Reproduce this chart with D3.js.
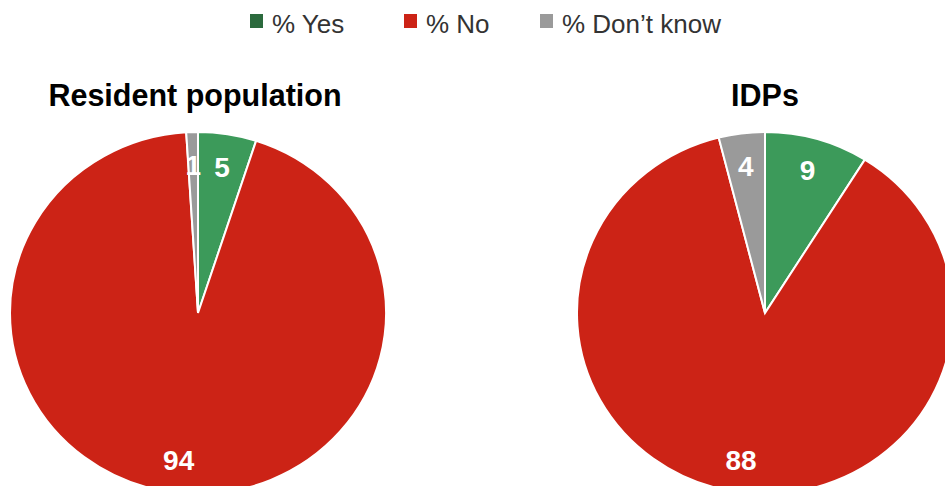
<!DOCTYPE html>
<html>
<head>
<meta charset="utf-8">
<script src="https://cdn.jsdelivr.net/npm/d3@7"></script>
<style>
  html, body { margin: 0; padding: 0; background: #fff; }
  svg { display: block; }
</style>
</head>
<body>
<svg id="chart" width="945" height="486"></svg>
<script>
// Survey answers, one pie per population group
const categories = ["% Yes", "% No", "% Don\u2019t know"];
const groups = ["Resident population", "IDPs"];
const residentValues = [5, 94, 1];
const idpValues = [9, 88, 4];

const sliceColors = ["#3c9a5a", "#cc2316", "#9a9a9a"];
const legendColors = ["#2b6a3d", "#cc2316", "#9a9a9a"];

const svg = d3.select("#chart");

// Legend across the top
const legendX = [250, 404, 540];
const legend = svg.append("g").attr("class", "legend");
categories.forEach((c, i) => {
  legend.append("rect")
    .attr("x", legendX[i]).attr("y", 14)
    .attr("width", 13).attr("height", 14)
    .attr("fill", legendColors[i]);
  legend.append("text")
    .attr("x", legendX[i] + 22).attr("y", 33)
    .attr("font-family", "Liberation Sans, Arial, sans-serif")
    .attr("font-size", 26)
    .attr("fill", "#333")
    .text(c);
});

// Pie geometry
const rx = 188, ry = 181;
const centers = [{ x: 198, y: 313 }, { x: 765, y: 313 }];
const titleX = [195, 765];
const datasets = [residentValues, idpValues];

const pie = d3.pie().sort(null).value(d => d);
const arc = d3.arc().innerRadius(0).outerRadius(rx);
const labelArc = d3.arc().innerRadius(rx * 0.82).outerRadius(rx * 0.82);

datasets.forEach((vals, gi) => {
  const c = centers[gi];
  const arcs = pie(vals);

  // slices, squashed slightly vertically
  const g = svg.append("g")
    .attr("transform", `translate(${c.x},${c.y}) scale(1,${ry / rx})`);
  g.selectAll("path")
    .data(arcs)
    .join("path")
    .attr("d", arc)
    .attr("fill", (d, i) => sliceColors[i])
    .attr("stroke", "#fff")
    .attr("stroke-width", 2)
    .attr("vector-effect", "non-scaling-stroke");

  // value labels
  const lg = svg.append("g").attr("transform", `translate(${c.x},${c.y})`);
  lg.selectAll("text")
    .data(arcs)
    .join("text")
    .attr("x", d => labelArc.centroid(d)[0])
    .attr("y", d => labelArc.centroid(d)[1] * ry / rx)
    .attr("dy", "0.36em")
    .attr("text-anchor", "middle")
    .attr("font-family", "Liberation Sans, Arial, sans-serif")
    .attr("font-weight", "bold")
    .attr("font-size", 28)
    .attr("fill", "#fff")
    .text(d => d.data);

  // group title
  svg.append("text")
    .attr("x", titleX[gi])
    .attr("y", 106)
    .attr("text-anchor", "middle")
    .attr("font-family", "Liberation Sans, Arial, sans-serif")
    .attr("font-weight", "bold")
    .attr("font-size", 30.5)
    .attr("fill", "#000")
    .text(groups[gi]);
});
</script>
</body>
</html>
